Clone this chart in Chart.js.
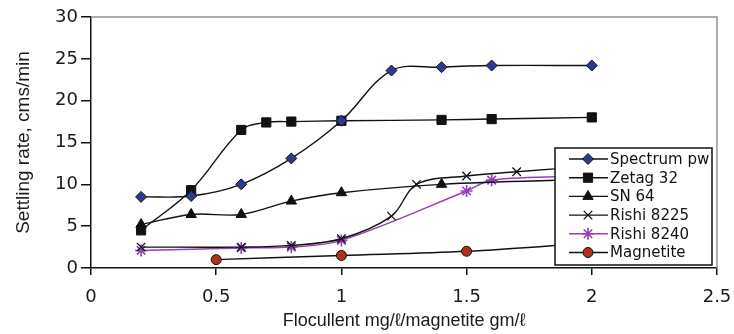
<!DOCTYPE html>
<html lang="en">
<head>
<meta charset="UTF-8">
<title>Settling rate vs flocculent dose</title>
<style>
  body { margin: 0; background: #fff; }
  canvas { display: block; }
</style>
</head>
<body>
<canvas id="settleChart" width="734" height="334"></canvas>
<script src="https://cdn.jsdelivr.net/npm/chart.js@4.4.1/dist/chart.umd.min.js"></script>
<script>
// values
const seriesNames = ['Spectrum pw', 'Zetag 32', 'SN 64', 'Rishi 8225', 'Rishi 8240', 'Magnetite'];

const spectrumX = [0.2, 0.4, 0.6, 0.8, 1.0, 1.2, 1.4, 1.6, 2.0];
const spectrumY = [8.5, 8.6, 10.0, 13.1, 17.6, 23.6, 24.0, 24.2, 24.2];

const zetagX = [0.2, 0.4, 0.6, 0.7, 0.8, 1.0, 1.4, 1.6, 2.0];
const zetagY = [4.5, 9.3, 16.5, 17.4, 17.5, 17.6, 17.7, 17.8, 18.0];

const sn64X = [0.2, 0.4, 0.6, 0.8, 1.0, 1.4, 2.0];
const sn64Y = [5.2, 6.4, 6.4, 8.0, 9.0, 10.0, 10.6];

const rishi8225X = [0.2, 0.6, 0.8, 1.0, 1.2, 1.3, 1.5, 1.7, 2.0];
const rishi8225Y = [2.5, 2.5, 2.7, 3.5, 6.2, 10.0, 11.0, 11.5, 12.2];

const rishi8240X = [0.2, 0.6, 0.8, 1.0, 1.5, 1.6, 2.0];
const rishi8240Y = [2.1, 2.4, 2.5, 3.3, 9.2, 10.5, 11.0];

const magnetiteX = [0.5, 1.0, 1.5, 2.0];
const magnetiteY = [1.0, 1.5, 2.0, 3.0];

const xTickLabels = ['0', '0.5', '1', '1.5', '2', '2.5'];
const yTickLabels = ['0', '5', '10', '15', '20', '25', '30'];

function pts(xs, ys) {
    return xs.map((x, i) => ({ x: x, y: ys[i] }));
}

const purple = '#9340b9';

function series(i, xs, ys, style) {
    return Object.assign({
        label: seriesNames[i],
        data: pts(xs, ys),
        borderColor: '#111',
        borderWidth: 1.4,
        tension: 0.35,
        pointBorderColor: '#111',
        pointBorderWidth: 1,
        pointHoverRadius: 6
    }, style);
}

// white legend box drawn inside the plot, over the lines
const legendBox = {
    id: 'legendBox',
    afterDraw(chart) {
        const ctx = chart.ctx;
        const area = chart.chartArea;
        const x0 = area.right - 162, y0 = area.top + 131;
        const w = 157, h = 117;
        ctx.save();
        ctx.fillStyle = '#fff';
        ctx.fillRect(x0, y0, w, h);
        ctx.strokeStyle = '#111';
        ctx.lineWidth = 1.5;
        ctx.strokeRect(x0, y0, w, h);
        chart.data.datasets.forEach((ds, i) => {
            const y = y0 + 11 + i * 18.7;
            ctx.beginPath();
            ctx.strokeStyle = ds.borderColor;
            ctx.lineWidth = ds.borderWidth;
            ctx.moveTo(x0 + 14, y);
            ctx.lineTo(x0 + 53, y);
            ctx.stroke();
            ctx.fillStyle = ds.pointBackgroundColor;
            ctx.strokeStyle = ds.pointBorderColor;
            ctx.lineWidth = ds.pointBorderWidth;
            Chart.helpers.drawPoint(ctx, {
                pointStyle: ds.pointStyle,
                radius: ds.pointRadius,
                borderWidth: ds.pointBorderWidth,
                rotation: 0
            }, x0 + 33, y);
            ctx.fillStyle = '#111';
            ctx.font = '15px "DejaVu Sans"';
            ctx.textBaseline = 'middle';
            ctx.textAlign = 'left';
            ctx.fillText(ds.label, x0 + 55, y + 1);
        });
        ctx.restore();
    }
};

// grey frame on top and right of the plot area
const plotFrame = {
    id: 'plotFrame',
    beforeDatasetsDraw(chart) {
        const ctx = chart.ctx;
        const a = chart.chartArea;
        ctx.save();
        ctx.strokeStyle = '#8c9298';
        ctx.lineWidth = 1.5;
        ctx.beginPath();
        ctx.moveTo(a.left, a.top);
        ctx.lineTo(a.right, a.top);
        ctx.lineTo(a.right, a.bottom);
        ctx.stroke();
        ctx.restore();
    }
};

const ctx = document.getElementById('settleChart').getContext('2d');

new Chart(ctx, {
    type: 'line',
    data: {
        datasets: [
            series(0, spectrumX, spectrumY, { pointStyle: 'rectRot', pointRadius: 5.5, pointBackgroundColor: '#2c3a92' }),
            series(1, zetagX, zetagY, { pointStyle: 'rect', pointRadius: 6.5, pointBackgroundColor: '#111' }),
            series(2, sn64X, sn64Y, { pointStyle: 'triangle', pointRadius: 6, pointBackgroundColor: '#111' }),
            series(3, rishi8225X, rishi8225Y, { pointStyle: 'crossRot', pointRadius: 6, pointBorderWidth: 1.3, pointBackgroundColor: '#111' }),
            series(4, rishi8240X, rishi8240Y, { pointStyle: 'star', pointRadius: 6, pointBorderWidth: 1.6, borderColor: purple, borderWidth: 1.5, pointBorderColor: purple, pointBackgroundColor: purple }),
            series(5, magnetiteX, magnetiteY, { pointStyle: 'circle', pointRadius: 5, pointBackgroundColor: '#b0321c' })
        ]
    },
    options: {
        responsive: false,
        animation: false,
        layout: {
            padding: { top: 17, right: 17, left: 0, bottom: 0 }
        },
        plugins: {
            legend: { display: false },
            tooltip: { enabled: true }
        },
        scales: {
            x: {
                type: 'linear',
                min: 0,
                max: 2.5,
                afterFit: s => { s.height = 66; s.paddingLeft = 0; s.paddingRight = 0; },
                ticks: {
                    stepSize: 0.5,
                    padding: 12,
                    color: '#1a1a1a',
                    font: { family: '"DejaVu Sans"', size: 18 },
                    callback: (v, i) => xTickLabels[i]
                },
                grid: { drawOnChartArea: false, tickLength: 7, color: '#111', lineWidth: 1.5 },
                border: { color: '#111', width: 1.5 },
                title: {
                    display: true,
                    text: 'Flocullent mg/ℓ/magnetite gm/ℓ',
                    color: '#1a1a1a',
                    font: { family: '"Liberation Sans", Arial', size: 18 },
                    padding: { top: 0, bottom: 2 }
                }
            },
            y: {
                min: 0,
                max: 30,
                afterFit: s => { s.width = 91; },
                ticks: {
                    stepSize: 5,
                    padding: 3,
                    color: '#1a1a1a',
                    font: { family: '"DejaVu Sans"', size: 18 },
                    callback: (v, i) => yTickLabels[i]
                },
                grid: { drawOnChartArea: false, tickLength: 10, color: '#111', lineWidth: 1.5 },
                border: { color: '#111', width: 1.5 },
                title: {
                    display: true,
                    text: 'Settling rate, cms/min',
                    color: '#1a1a1a',
                    font: { family: '"Liberation Sans", Arial', size: 19 },
                    padding: { top: 12, bottom: 0 }
                }
            }
        }
    },
    plugins: [plotFrame, legendBox]
});
</script>
</body>
</html>
